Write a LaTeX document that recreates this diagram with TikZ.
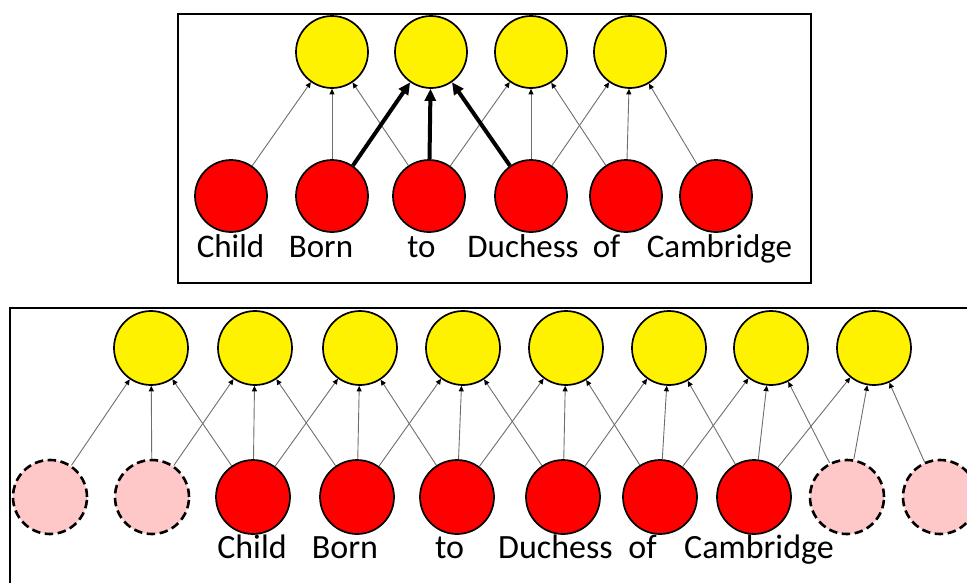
\documentclass[tikz,border=0pt]{standalone}
\usepackage{fontspec}
\setmainfont{Carlito}
\usetikzlibrary{arrows.meta}

\definecolor{padpink}{RGB}{255,200,200}
\definecolor{edgegray}{RGB}{110,110,110}

\begin{document}
\begin{tikzpicture}[x=1pt, y=-1pt, % pixel grid, y downwards
  inp/.style    = {circle, draw, line width=1.7pt, fill=red, minimum size=72pt, inner sep=0pt},
  pad/.style    = {inp, fill=padpink, dash pattern=on 8.5pt off 4.5pt, line width=2.6pt},
  hid/.style    = {inp, fill=yellow},
  edge/.style   = {draw=edgegray, line width=0.9pt, -{Triangle[length=5.5pt,width=5pt,black]}},
  strong/.style = {draw=black, line width=4pt, -{Triangle[length=12pt,width=11pt]}},
  word/.style   = {anchor=base, inner sep=0pt, font=\fontsize{33}{36}\selectfont}]
\useasboundingbox (0,0) rectangle (967,582);
\clip (0,0) rectangle (967,582);
%%
%% frames
\draw [line width=1.7pt] (178,14) rectangle (811,283);
\draw [line width=1.7pt] (10,308) rectangle (990,600);
%%
%% upper net: words
\node [inp] (tx1) at (231,196) {};
\node [inp] (tx2) at (332,196) {};
\node [inp] (tx3) at (429,196) {};
\node [inp] (tx4) at (531,196) {};
\node [inp] (tx5) at (626,196) {};
\node [inp] (tx6) at (716,196) {};
%% upper net: hidden units
\node [hid] (th1) at (332,52) {};
\node [hid] (th2) at (431,52) {};
\node [hid] (th3) at (531,52) {};
\node [hid] (th4) at (630,52) {};
%% upper net: connections, window of three
\foreach \j in {1,3,4}{
  \foreach \d in {0,1,2}{
    \pgfmathtruncatemacro{\i}{\j+\d}
    \draw [edge] (tx\i) -- (th\j);
  }
}
\draw [edge,strong] (tx2) -- (th2);
\draw [edge,strong] (tx3) -- (th2);
\draw [edge,strong] (tx4) -- (th2);
%% upper net: labels
\node [word] (tl1) at (230.5,257) {Child};
\node [word] (tl2) at (321,257) {Born};
\node [word] (tl3) at (421.5,257) {to};
\node [word] (tl4) at (523,257) {Duchess};
\node [word] (tl5) at (606.5,257) {of};
\node [word] (tl6) at (719.5,257) {Cambridge};
%%
%% lower net: padded words
\begin{scope}[inp/.append style={minimum size=74pt}]
\node [pad] (bx1)  at (50,497)  {};
\node [pad] (bx2)  at (152,497) {};
\node [inp] (bx3)  at (253,497) {};
\node [inp] (bx4)  at (357,497) {};
\node [inp] (bx5)  at (457,497) {};
\node [inp] (bx6)  at (563,497) {};
\node [inp] (bx7)  at (660,497) {};
\node [inp] (bx8)  at (754,497) {};
\node [pad] (bx9)  at (847,497) {};
\node [pad] (bx10) at (940,497) {};
%% lower net: hidden units
\node [hid] (bh1) at (151,348) {};
\node [hid] (bh2) at (255,348) {};
\node [hid] (bh3) at (360,348) {};
\node [hid] (bh4) at (463,348) {};
\node [hid] (bh5) at (566,348) {};
\node [hid] (bh6) at (669,348) {};
\node [hid] (bh7) at (771,348) {};
\node [hid] (bh8) at (874,348) {};
\end{scope}
%% lower net: connections
\foreach \j in {1,...,8}{
  \foreach \d in {0,1,2}{
    \pgfmathtruncatemacro{\i}{\j+\d}
    \draw [edge] (bx\i) -- (bh\j);
  }
}
%% lower net: labels
\begin{scope}[word/.append style={font=\fontsize{34}{36}\selectfont}]
\node [word] (bl1) at (252,558) {Child};
\node [word] (bl2) at (345,558) {Born};
\node [word] (bl3) at (449.5,558) {to};
\node [word] (bl4) at (555.5,558) {Duchess};
\node [word] (bl5) at (642.5,558) {of};
\node [word] (bl6) at (759,558) {Cambridge};
\end{scope}
\end{tikzpicture}
\end{document}
